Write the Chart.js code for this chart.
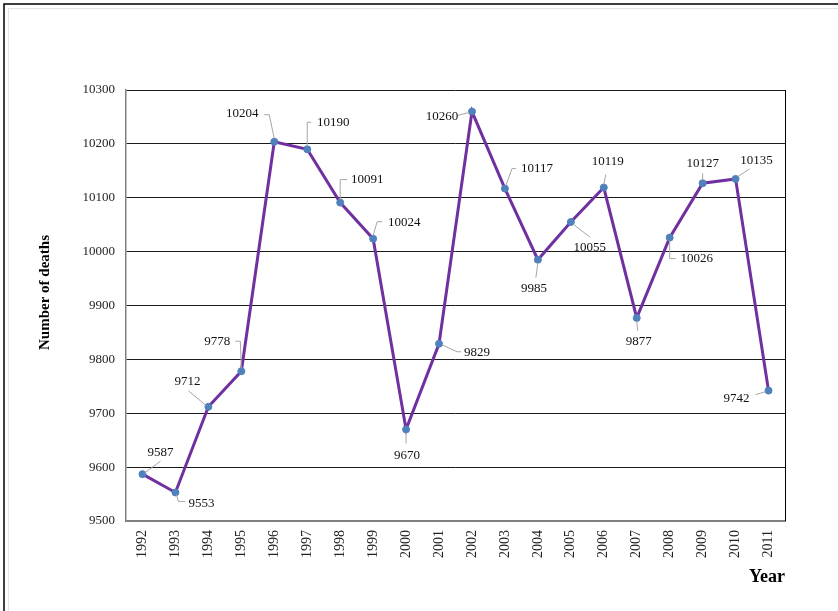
<!DOCTYPE html>
<html>
<head>
<meta charset="utf-8">
<script src="https://cdn.jsdelivr.net/npm/chart.js@4/dist/chart.umd.min.js"></script>
<style>
    body { margin: 0; background: #fff; }
    #wrap { width: 838px; height: 611px; }
</style>
</head>
<body>
<div id="wrap"><canvas id="deaths" width="838" height="611"></canvas></div>
<script>
// Данные -------------------------------------------------------------------------------------------------------------
var years = ['1992', '1993', '1994', '1995', '1996', '1997', '1998', '1999', '2000', '2001',
    '2002', '2003', '2004', '2005', '2006', '2007', '2008', '2009', '2010', '2011'];
var deaths = [9587, 9553, 9712, 9778, 10204, 10190, 10091, 10024, 9670, 9829,
    10260, 10117, 9985, 10055, 10119, 9877, 10026, 10127, 10135, 9742];

// Подписи: смещение центра текста от точки и выноска (ломаная, тоже относительно точки)
var labelOffsets = [[18, -22], [26, 11], [-21, -25], [-24, -30], [-32, -28], [26, -27], [27, -23], [31, -16],
    [1, 26], [38, 9], [-30, 5], [32, -20], [-4, 29], [19, 26], [4, -26], [2, 24], [27, 21], [0, -20], [21, -18], [-32, 8]];
var leaders = [
    [[2, -1], [18, -13]],
    [[1, 2], [3, 9], [10, 9]],
    [[-2, -1], [-20, -16]],
    [[0, -3], [-1, -30], [-6, -30]],
    [[0, -3], [-5, -27], [-10, -27]],
    [[0, -3], [0, -27], [4, -27]],
    [[0, -3], [0, -23], [7, -23]],
    [[0, -3], [4, -17], [9, -17]],
    [[0, 3], [0, 14]],
    [[3, 1], [18, 8], [22, 8]],
    [[-3, 1], [-15, 4]],
    [[1, -3], [7, -20], [11, -20]],
    [[0, 3], [-2, 18]],
    [[2, 2], [19, 15]],
    [[0, -3], [2, -13]],
    [[0, 3], [1, 13]],
    [[0, 3], [0, 21], [6, 21]],
    [[0, -3], [0, -10]],
    [[2, -2], [14, -10]],
    [[-3, 1], [-13, 4]]
];

var serif = '"Liberation Serif", "Times New Roman", serif';
var yTitle = 'Number of deaths';

// Рамка вокруг картинки, правая граница области графика и подпись оси Y
var framePlugin = {
    id: 'frame',
    beforeDraw: function (chart) {
        var ctx = chart.ctx;
        ctx.save();
        ctx.fillStyle = '#fff';
        ctx.fillRect(0, 0, chart.width, chart.height);
        ctx.strokeStyle = '#e4e4e4';
        ctx.lineWidth = 1;
        ctx.beginPath();
        ctx.moveTo(8.5, chart.height);
        ctx.lineTo(8.5, 8.5);
        ctx.lineTo(chart.width, 8.5);
        ctx.stroke();
        ctx.strokeStyle = '#000';
        ctx.lineWidth = 1.5;
        ctx.beginPath();
        ctx.moveTo(4, chart.height);
        ctx.lineTo(4, 4);
        ctx.lineTo(chart.width, 4);
        ctx.stroke();
        ctx.restore();
    },
    afterDatasetsDraw: function (chart) {
        var ctx = chart.ctx;
        var a = chart.chartArea;
        ctx.save();
        ctx.strokeStyle = '#000';
        ctx.lineWidth = 1;
        ctx.beginPath();
        ctx.moveTo(a.right + 0.5, a.top);
        ctx.lineTo(a.right + 0.5, a.bottom);
        ctx.stroke();

        ctx.translate(45, (a.top + a.bottom) / 2 - 13);
        ctx.rotate(-Math.PI / 2);
        ctx.font = 'bold 15px ' + serif;
        ctx.fillStyle = '#000';
        ctx.textAlign = 'center';
        ctx.textBaseline = 'middle';
        ctx.fillText(yTitle, 0, 0);
        ctx.restore();
    }
};

// Подписи значений с выносками
var labelsPlugin = {
    id: 'valueLabels',
    afterDatasetsDraw: function (chart) {
        var ctx = chart.ctx;
        var meta = chart.getDatasetMeta(0);
        ctx.save();
        ctx.font = '13px ' + serif;
        ctx.textAlign = 'center';
        ctx.textBaseline = 'middle';
        meta.data.forEach(function (pt, i) {
            var line = leaders[i];
            ctx.strokeStyle = '#a6a6a6';
            ctx.lineWidth = 1;
            ctx.beginPath();
            line.forEach(function (p, j) {
                if (j === 0) ctx.moveTo(pt.x + p[0], pt.y + p[1]);
                else ctx.lineTo(pt.x + p[0], pt.y + p[1]);
            });
            ctx.stroke();
            ctx.fillStyle = '#111';
            ctx.fillText(String(deaths[i]), pt.x + labelOffsets[i][0], pt.y + labelOffsets[i][1]);
        });
        ctx.restore();
    }
};

var ctx = document.getElementById('deaths').getContext('2d');
var chart = new Chart(ctx, {
    type: 'line',
    data: {
        labels: years,
        datasets: [
            {
                data: deaths,
                borderColor: '#7030A0',
                borderWidth: 3,
                pointRadius: 3.5,
                pointBackgroundColor: '#4F81BD',
                pointBorderColor: '#4F81BD',
                pointBorderWidth: 1,
                tension: 0
            }
        ]
    },
    options: {
        responsive: false,
        animation: false,
        layout: {
            padding: { left: 0, top: 90, right: 53, bottom: 0 }
        },
        plugins: {
            legend: { display: false },
            tooltip: { enabled: false }
        },
        scales: {
            x: {
                offset: true,
                afterFit: function (scale) { scale.height = 90; },
                grid: { display: false, drawTicks: false },
                border: { color: '#808080', width: 2 },
                ticks: {
                    minRotation: 90,
                    maxRotation: 90,
                    padding: 9,
                    color: '#222',
                    font: { family: serif, size: 14 }
                },
                title: {
                    display: true,
                    text: 'Year',
                    align: 'end',
                    color: '#000',
                    font: { family: serif, size: 18, weight: 'bold' },
                    padding: { top: 0, bottom: 23 }
                }
            },
            y: {
                min: 9500,
                max: 10300,
                afterFit: function (scale) { scale.width = 126; },
                grid: { color: '#1a1a1a', lineWidth: 1, drawTicks: false },
                border: { color: '#808080', width: 1.5 },
                ticks: {
                    stepSize: 100,
                    padding: 11,
                    color: '#222',
                    font: { family: serif, size: 13 },
                    callback: function (value) { return String(value); }
                }
            }
        }
    },
    plugins: [framePlugin, labelsPlugin]
});
</script>
</body>
</html>
